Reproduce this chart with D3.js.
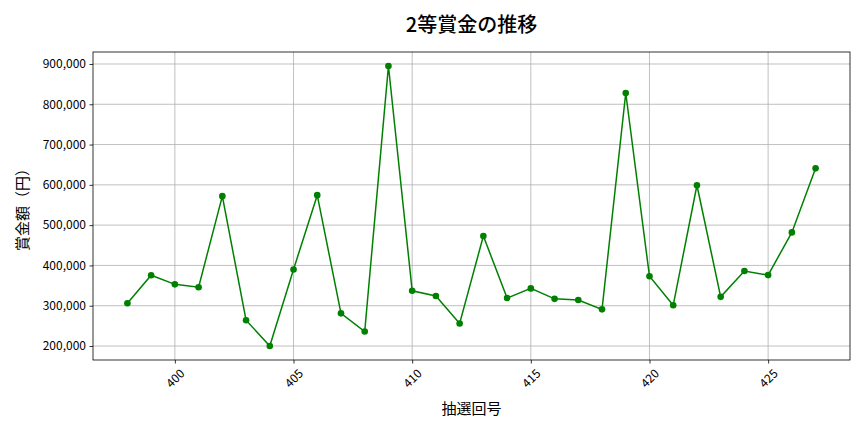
<!DOCTYPE html>
<html><head><meta charset="utf-8">
<script src="https://cdn.jsdelivr.net/npm/d3@7"></script>
<style>
body{margin:0;background:#fff;}
text{font-family:"Noto Sans CJK JP","Noto Sans",sans-serif;fill:#000;}
</style></head>
<body><svg id="c" width="864" height="432"></svg>
<script>
const rounds = [398,399,400,401,402,403,404,405,406,407,408,409,410,411,412,413,414,415,416,417,418,419,420,421,422,423,424,425,426,427];
const prizes = [306000,375600,353000,346000,572000,264000,200000,390000,574400,281000,236000,895000,337000,324000,256000,473000,319000,343000,317000,314000,291000,828000,373000,301000,599000,322000,386000,376000,482000,641000];
const xTicks = [400,405,410,415,420,425];
const yTicks = [200000,300000,400000,500000,600000,700000,800000,900000];
const title = "2等賞金の推移";
const xLabel = "抽選回号";
const yLabel = "賞金額（円）";

const svg = d3.select("#c");
const L=93,R=850,T=52,B=360;
const xmin=d3.min(rounds),xmax=d3.max(rounds),xm=(xmax-xmin)*0.05;
const ymin=d3.min(prizes),ymax=d3.max(prizes),ym=(ymax-ymin)*0.05;
const x=d3.scaleLinear().domain([xmin-xm,xmax+xm]).range([L,R]);
const y=d3.scaleLinear().domain([ymin-ym,ymax+ym]).range([B,T]);

// grid
svg.append("g").selectAll("line").data(xTicks).join("line")
 .attr("x1",d=>x(d)).attr("x2",d=>x(d)).attr("y1",T).attr("y2",B)
 .attr("stroke","#b0b0b0").attr("stroke-width",0.8);
svg.append("g").selectAll("line").data(yTicks).join("line")
 .attr("y1",d=>y(d)).attr("y2",d=>y(d)).attr("x1",L).attr("x2",R)
 .attr("stroke","#b0b0b0").attr("stroke-width",0.8);

// axes
const fmt=d3.format(",");
const ya=svg.append("g").attr("transform",`translate(${L},0)`)
 .call(d3.axisLeft(y).tickValues(yTicks).tickFormat(fmt).tickSize(3.5).tickPadding(3.5));
ya.select(".domain").remove();
ya.selectAll("text").attr("font-size",12).style("font-family","'Noto Sans CJK JP'");
ya.selectAll("line").attr("stroke","#000").attr("stroke-width",0.8);

const xa=svg.append("g").attr("transform",`translate(0,${B})`)
 .call(d3.axisBottom(x).tickValues(xTicks).tickFormat(d3.format("d")).tickSize(3.5).tickPadding(3.5));
xa.select(".domain").remove();
xa.selectAll("line").attr("stroke","#000").attr("stroke-width",0.8);
xa.selectAll("text").attr("font-size",12).style("font-family","'Noto Sans CJK JP'")
 .attr("text-anchor","middle").attr("dy","0.35em").attr("y",0)
 .attr("transform","translate(0,18.5) rotate(-45)");

// frame
svg.append("rect").attr("x",L).attr("y",T).attr("width",R-L).attr("height",B-T)
 .attr("fill","none").attr("stroke","#000").attr("stroke-width",0.8);

// line
const line=d3.line().x((d,i)=>x(rounds[i])).y(d=>y(d));
svg.append("path").datum(prizes).attr("d",line).attr("fill","none")
 .attr("stroke","green").attr("stroke-width",1.5);
svg.append("g").selectAll("circle").data(prizes).join("circle")
 .attr("cx",(d,i)=>x(rounds[i])).attr("cy",d=>y(d)).attr("r",3.3).attr("fill","green");

// labels
svg.append("text").attr("x",(L+R)/2).attr("y",32).attr("text-anchor","middle")
 .attr("font-size",20).attr("font-weight","500").text(title);
svg.append("text").attr("x",(L+R)/2).attr("y",414).attr("text-anchor","middle")
 .attr("font-size",15).text(xLabel);
svg.append("text").attr("transform",`translate(28,${(T+B)/2}) rotate(-90)`).attr("text-anchor","middle")
 .attr("font-size",15).text(yLabel);
</script></body></html>
